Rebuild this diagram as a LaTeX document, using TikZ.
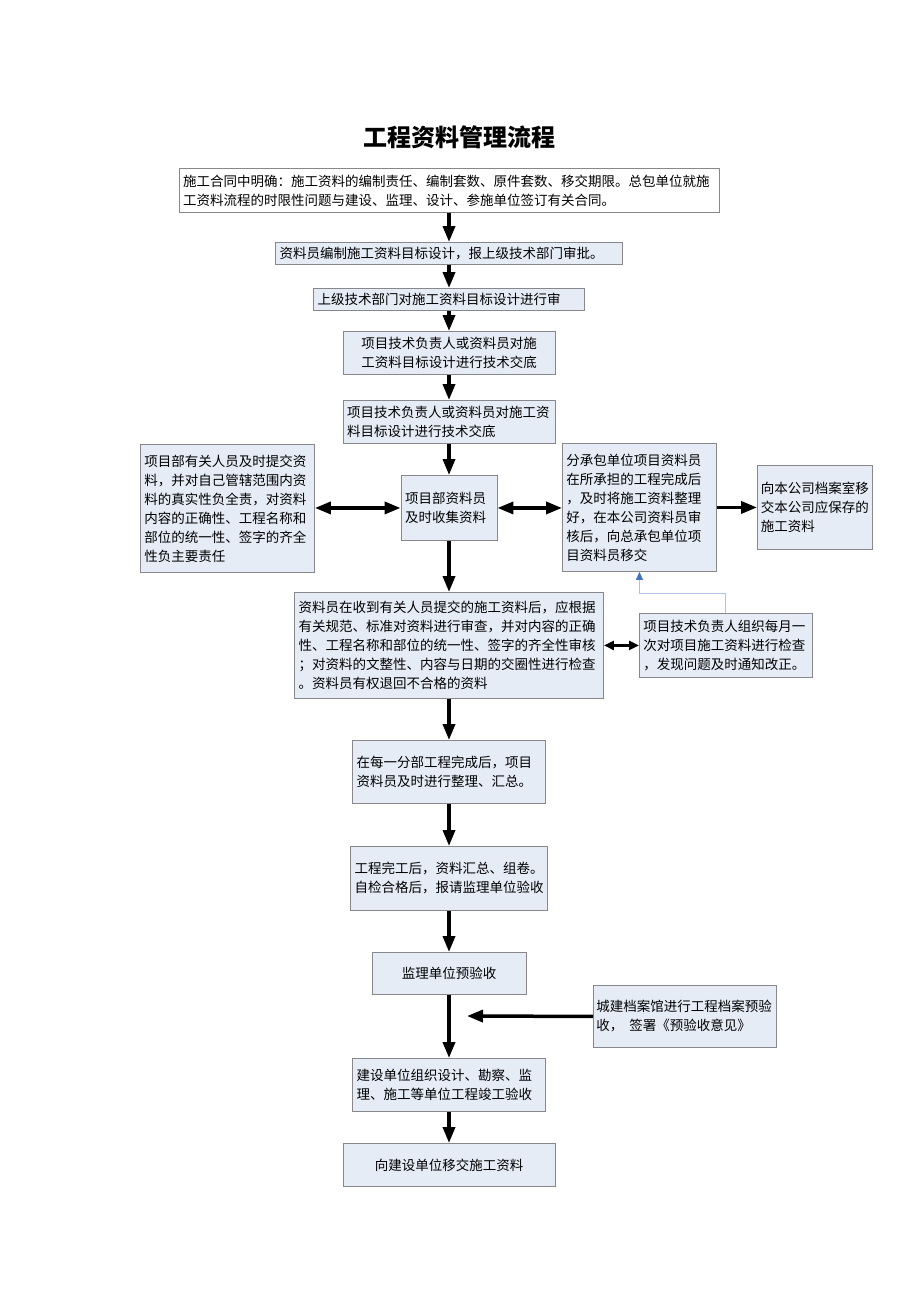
\documentclass[tikz,border=0pt]{standalone}
\usepackage{fontspec}
\setmainfont{Noto Sans CJK SC}
\usetikzlibrary{arrows.meta,positioning}
\definecolor{boxfill}{RGB}{230,236,246}
\definecolor{boxline}{RGB}{135,135,140}
\definecolor{linkblue}{RGB}{175,196,224}
\definecolor{tipblue}{RGB}{68,114,196}
\tikzset{x=1pt, y=-1pt}
\tikzset{box/.style={draw=boxline,fill=boxfill,line width=0.9pt,inner xsep=4pt,inner ysep=2pt,
    font=\fontsize{13.5}{19}\selectfont,align=left}}
\tikzset{wbox/.style={box,fill=white}}
\tikzset{flow/.style={line width=3.5pt,-{Triangle[length=16pt,width=12pt]}}}
\tikzset{both/.style={line width=3.5pt,{Triangle[length=16pt,width=12pt]}-{Triangle[length=16pt,width=12pt]}}}
\tikzset{small/.style={line width=2.5pt,{Triangle[length=10pt,width=9pt]}-{Triangle[length=10pt,width=9pt]}}}
\tikzset{thin/.style={draw=linkblue,line width=1pt,-{Triangle[length=8pt,width=7pt,fill=tipblue,color=tipblue]}}}
\begin{document}
\begin{tikzpicture}
  \useasboundingbox (0,0) rectangle (920,1302);
  \node[font=\fontsize{24}{28}\selectfont\bfseries] (title) at (459,137) {工程资料管理流程};

  % main column
  \node[wbox,anchor=north,minimum width=540pt,text width=532pt,minimum height=44pt] (contract) at (449,168)
    {施工合同中明确：施工资料的编制责任、编制套数、原件套数、移交期限。总包单位就施\\工资料流程的时限性问题与建设、监理、设计、参施单位签订有关合同。};
  \node[box,anchor=north,minimum width=347pt,text width=339pt,minimum height=22pt] (design) at (449,242)
    {资料员编制施工资料目标设计，报上级技术部门审批。};
  \node[box,anchor=north,minimum width=271pt,text width=263pt,minimum height=22pt] (review) at (449,288)
    {上级技术部门对施工资料目标设计进行审};
  \node[box,anchor=north,minimum width=212pt,text width=204pt,minimum height=43pt,align=center] (brief1) at (449,331)
    {项目技术负责人或资料员对施\\工资料目标设计进行技术交底};
  \node[box,anchor=north,minimum width=212pt,text width=204pt,minimum height=43pt] (brief2) at (449,400)
    {项目技术负责人或资料员对施工资\\料目标设计进行技术交底};
  \node[box,anchor=north,minimum width=96pt,text width=88pt,minimum height=65pt] (collect) at (449,475)
    {项目部资料员\\及时收集资料};
  \node[box,anchor=north,minimum width=309pt,text width=301pt,minimum height=106pt] (check) at (449,592)
    {资料员在收到有关人员提交的施工资料后，应根据\\有关规范、标准对资料进行审查，并对内容的正确\\性、工程名称和部位的统一性、签字的齐全性审核\\；对资料的文整性、内容与日期的交圈性进行检查\\。资料员有权退回不合格的资料};
  \node[box,anchor=north,minimum width=193pt,text width=185pt,minimum height=63pt] (sort) at (449,740)
    {在每一分部工程完成后，项目\\资料员及时进行整理、汇总。};
  \node[box,anchor=north,minimum width=197pt,text width=189pt,minimum height=64pt] (bind) at (449,846)
    {工程完工后，资料汇总、组卷。\\自检合格后，报请监理单位验收};
  \node[box,anchor=north,minimum width=154pt,text width=146pt,minimum height=42pt,align=center] (pre) at (449,952)
    {监理单位预验收};
  \node[box,anchor=north,minimum width=193pt,text width=185pt,minimum height=53pt] (final) at (449,1058)
    {建设单位组织设计、勘察、监\\理、施工等单位工程竣工验收};
  \node[box,anchor=north,minimum width=212pt,text width=204pt,minimum height=43pt,align=center] (hand) at (449,1143)
    {向建设单位移交施工资料};

  % side boxes
  \node[box,anchor=north west,minimum width=174pt,text width=166pt,minimum height=128pt] (staff) at (140,444)
    {项目部有关人员及时提交资\\料，并对自己管辖范围内资\\料的真实性负全责，对资料\\内容的正确性、工程名称和\\部位的统一性、签字的齐全\\性负主要责任};
  \node[box,anchor=north west,minimum width=154pt,text width=146pt,minimum height=128pt] (sub) at (562,443)
    {分承包单位项目资料员\\在所承担的工程完成后\\，及时将施工资料整理\\好，在本公司资料员审\\核后，向总承包单位项\\目资料员移交};
  \node[box,anchor=north west,minimum width=115pt,text width=108pt,inner xsep=3.5pt,minimum height=84pt] (archive) at (757,465)
    {向本公司档案室移\\交本公司应保存的\\施工资料};
  \node[box,anchor=north west,minimum width=173pt,text width=165pt,minimum height=64pt] (monthly) at (639,613)
    {项目技术负责人组织每月一\\次对项目施工资料进行检查\\，发现问题及时通知改正。};
  \node[box,anchor=north west,minimum width=183pt,text width=177pt,inner xsep=3pt,minimum height=62pt] (city) at (593,985)
    {城建档案馆进行工程档案预验\\收，\hspace{6pt}签署《预验收意见》};
  \coordinate (cityend) at (467,1016);

  % connectors
  \draw[flow] (contract) -- (design);
  \draw[flow] (design) -- (review);
  \draw[flow] (review) -- (brief1);
  \draw[flow] (brief1) -- (brief2);
  \draw[flow] (brief2) -- (collect);
  \draw[flow] (collect) -- (check);
  \draw[flow] (check) -- (sort);
  \draw[flow] (sort) -- (bind);
  \draw[flow] (bind) -- (pre);
  \draw[flow] (pre) -- (final);
  \draw[flow] (final) -- (hand);
  \draw[both] (staff.east |- collect) -- (collect.west);
  \draw[both] (collect.east) -- (sub.west |- collect);
  \draw[flow] (sub.east |- archive) -- (archive.west);
  \draw[small] (check.east) -- (monthly.west);
  \draw[thin] (monthly.north) -- ++(0,-20) -| (sub.south);
  \draw[flow] (city.west) -- (cityend);
\end{tikzpicture}
\end{document}
